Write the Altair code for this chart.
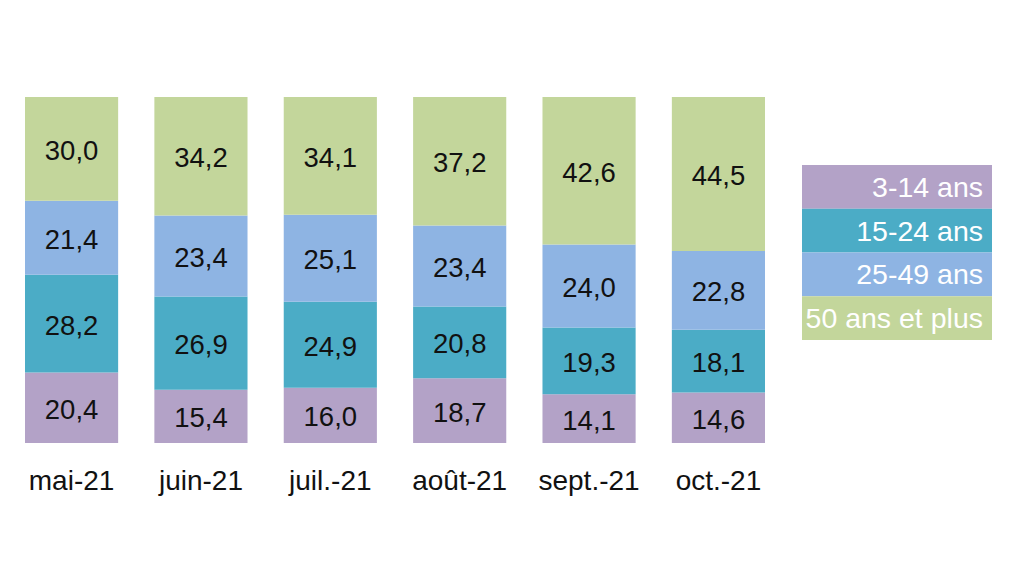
import altair as alt
import pandas as pd

months = ["mai-21", "juin-21", "juil.-21", "août-21", "sept.-21", "oct.-21"]
groups = ["3-14 ans", "15-24 ans", "25-49 ans", "50 ans et plus"]
colors = ["#B3A2C7", "#4BACC6", "#8EB4E3", "#C3D69B"]

v_3_14 = [20.4, 15.4, 16.0, 18.7, 14.1, 14.6]
v_15_24 = [28.2, 26.9, 24.9, 20.8, 19.3, 18.1]
v_25_49 = [21.4, 23.4, 25.1, 23.4, 24.0, 22.8]
v_50 = [30.0, 34.2, 34.1, 37.2, 42.6, 44.5]

series = [v_3_14, v_15_24, v_25_49, v_50]
rows = []
for gi, (g, vals) in enumerate(zip(groups, series)):
    for m, v in zip(months, vals):
        rows.append({"month": m, "group": g, "order": gi, "value": v})
df = pd.DataFrame(rows)

FONT = "Liberation Sans"

base = alt.Chart(df).transform_stack(
    stack="value", groupby=["month"], as_=["y0", "y1"],
    offset="normalize", sort=[alt.SortField("order", order="ascending")]
).transform_calculate(
    mid="(datum.y0 + datum.y1) / 2",
    label="replace(format(datum.value, '.1f'), '.', ',')"
)

xenc = alt.X("month:N", sort=months, title=None,
             scale=alt.Scale(paddingInner=0.28, paddingOuter=0),
             axis=alt.Axis(domain=False, ticks=False, labelAngle=0,
                           labelFont=FONT, labelFontSize=28, labelColor="#111111",
                           labelPadding=24))
yscale = alt.Scale(domain=[0, 1])

bars = base.mark_bar().encode(
    x=xenc,
    y=alt.Y("y0:Q", scale=yscale, axis=None),
    y2="y1:Q",
    color=alt.Color("group:N", scale=alt.Scale(domain=groups, range=colors), legend=None),
)
texts = base.mark_text(font=FONT, fontSize=27.5, color="#111111", baseline="middle", dy=3).encode(
    x=alt.X("month:N", sort=months),
    y=alt.Y("mid:Q", scale=yscale),
    text="label:N",
)
main = alt.layer(bars, texts).properties(width=740, height=346)

leg_df = pd.DataFrame({"group": groups})
leg_y = alt.Y("group:N", sort=groups, axis=None, title=None,
              scale=alt.Scale(range=[68, 243], paddingInner=0, paddingOuter=0))
leg_rect = alt.Chart(leg_df).mark_rect().encode(
    y=leg_y,
    color=alt.Color("group:N", scale=alt.Scale(domain=groups, range=colors), legend=None),
)
leg_text = alt.Chart(leg_df).mark_text(font=FONT, fontSize=28.5, color="white",
                                       align="right", baseline="middle", dx=-9, dy=1).encode(
    y=leg_y,
    x=alt.value(190),
    text="group:N",
)
legend = alt.layer(leg_rect, leg_text).properties(width=190, height=346)

chart = alt.hconcat(main, legend, spacing=37).properties(
    padding={"left": 16, "top": 89, "right": 5, "bottom": 5},
    background="white",
).configure_view(stroke=None, strokeWidth=0)

chart.save("out.html", embed_options={"renderer": "svg", "actions": False})
